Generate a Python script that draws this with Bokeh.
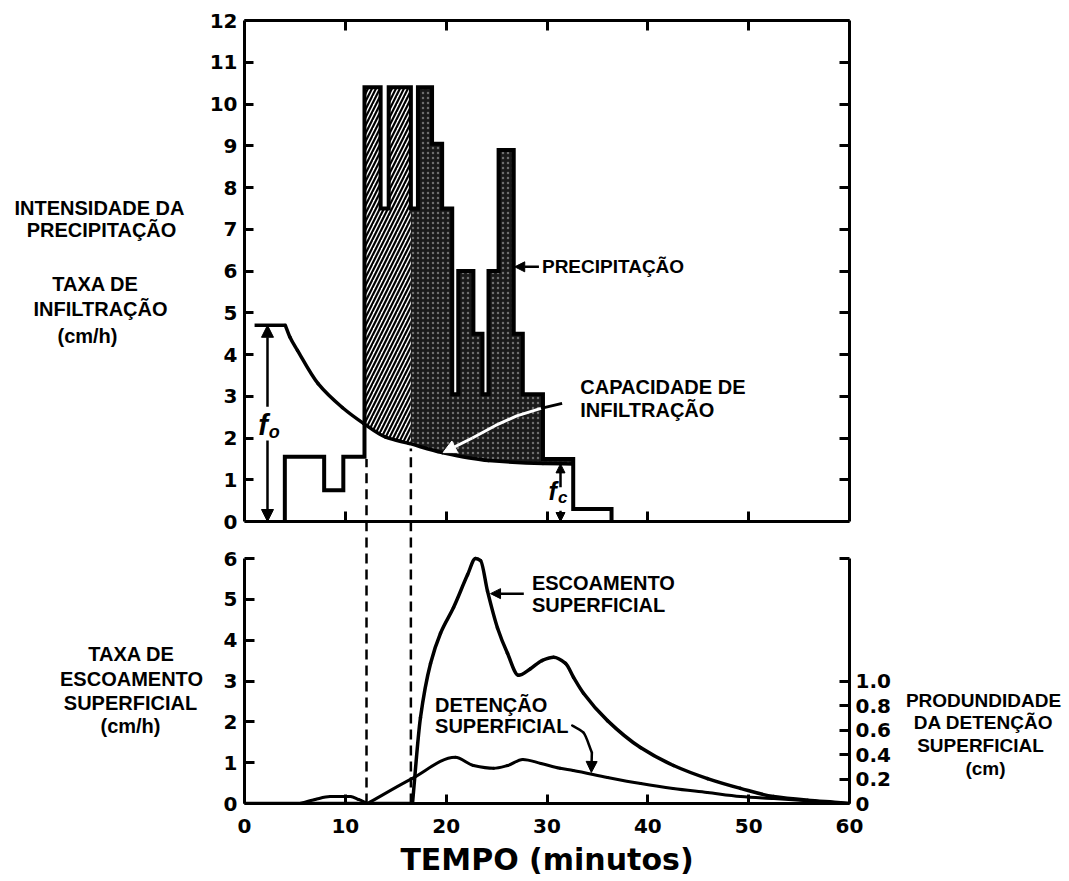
import numpy as np
from bokeh.plotting import figure
from bokeh.layouts import column, row
from bokeh.models import (Range1d, LinearAxis, FixedTicker, CustomJSTickFormatter,
                          Label, Arrow, NormalHead)
from bokeh.core.properties import value
from bokeh.embed import file_html
from bokeh.resources import INLINE

# ---------------- data ----------------
# precipitation hyetograph: interval edges (min) and intensity (cm/h)
rain_edges = [4.0, 7.9, 9.8, 11.9, 13.5, 14.3, 16.5, 17.2, 18.6, 19.6, 20.6,
              21.2, 22.7, 23.6, 24.2, 25.2, 26.7, 27.6, 29.6, 32.6, 36.4]
rain_rate = [1.55, 0.75, 1.55, 10.4, 7.5, 10.4, 7.5, 10.4, 9.05, 7.5,
             3.05, 6.0, 4.5, 3.05, 6.0, 8.9, 4.5, 3.05, 1.5, 0.3]

# infiltration capacity curve (cm/h)
cap_time = [1.0, 4.05, 4.5, 5.25, 7.3, 9.7, 11.8, 14.0, 16.3, 19.6, 24.2, 29.6, 32.6]
cap_rate = [4.7, 4.7, 4.42, 4.1, 3.3, 2.73, 2.35, 2.02, 1.87, 1.65, 1.46, 1.39, 1.38]

# surface runoff rate (cm/h)
runoff_time = [0, 16.66, 17.45, 18.45, 19.44, 20.73, 22.12, 22.91, 23.41, 24.1,
               25.09, 26.08, 27.17, 28.36, 29.5, 30.65, 31.84, 32.63, 33.62, 36.0,
               39.27, 42.55, 45.92, 49.19, 52.46, 55.84, 59.11, 60]
runoff_rate = [0, 0, 2.1, 3.43, 4.17, 4.8, 5.6, 6.0, 5.95, 5.2,
               4.3, 3.68, 3.14, 3.3, 3.5, 3.58, 3.43, 3.09, 2.7, 2.03,
               1.37, 0.93, 0.61, 0.37, 0.17, 0.08, 0.02, 0]

# surface detention depth (cm)
det_time = [0, 5.5, 7.0, 8.5, 10.5, 11.3, 12.2, 16.6, 20.9, 22.7, 24.7, 26.1,
            27.6, 29.4, 31.3, 32.6, 36.0, 39.3, 42.5, 45.9, 49.2, 52.5, 55.8, 60]
det_depth = [0, 0, 0.033, 0.057, 0.057, 0.033, 0, 0.203, 0.377, 0.31, 0.287, 0.31,
             0.36, 0.327, 0.287, 0.27, 0.213, 0.163, 0.123, 0.09, 0.057, 0.04, 0.023, 0]

split_times = [12.1, 16.5]          # dashed lines
x_ticks = [0, 10, 20, 30, 40, 50, 60]
x_inner_ticks = [10, 20, 30, 40, 50]
top_y_ticks = list(range(0, 13))
bot_y_ticks = list(range(0, 7))
depth_ticks = [0, 0.2, 0.4, 0.6, 0.8, 1.0, 2.0]

TXT = "Liberation Sans"
NUM = "DejaVu Sans"
LEFT_W, RIGHT_W = 205, 168          # side text panels
FW, LB, RB = 605, 39, 50
PX_TOP = 41.75     # px per cm/h, top panel
PX_BOT = 40.83     # px per cm/h, bottom panel
TOP_FH = 513       # 0..12 plus a small strip below 0
BOT_FH = 270
H_TOTAL = 878


def style_axis(ax, labels=True, tick_in=9, size="20px", standoff=7):
    ax.axis_line_width = 3
    ax.axis_line_color = "black"
    ax.major_tick_in = tick_in
    ax.major_tick_out = 0
    ax.major_tick_line_width = 3
    ax.major_tick_line_color = "black"
    ax.minor_tick_line_color = None
    if labels:
        ax.major_label_text_font = NUM
        ax.major_label_text_font_style = "bold"
        ax.major_label_text_font_size = size
        ax.major_label_text_color = "black"
        ax.major_label_standoff = standoff
    else:
        ax.formatter = CustomJSTickFormatter(code="return '';")
        ax.major_label_standoff = 0


def add_text(p, x, y, text, size="20px", align="left", font=TXT, style="bold",
             y_range_name="default"):
    p.add_layout(Label(x=x, y=y, text=text, text_font=font, text_font_style=style,
                       text_font_size=size, text_align=align, text_baseline="middle",
                       text_color="black", y_range_name=y_range_name))


def add_arrow(p, x0, y0, x1, y1, color="black", size=11, width=2.5):
    p.add_layout(Arrow(x_start=x0, y_start=y0, x_end=x1, y_end=y1,
                       line_color=color, line_width=width,
                       end=NormalHead(size=size, fill_color=color, line_color=color)))


def hermite_slopes(xs, ys):
    xs, ys = np.asarray(xs, float), np.asarray(ys, float)
    h = np.diff(xs)
    d = np.diff(ys) / h
    m = np.zeros(len(xs))
    m[0], m[-1] = d[0], d[-1]
    for i in range(1, len(xs) - 1):
        if d[i - 1] * d[i] <= 0:
            m[i] = 0.0
        else:
            w1, w2 = 2 * h[i] + h[i - 1], h[i] + 2 * h[i - 1]
            m[i] = (w1 + w2) / (w1 / d[i - 1] + w2 / d[i])
    return xs, ys, h, m


def smooth_curve(p, xs, ys, **kw):
    xs, ys, h, m = hermite_slopes(xs, ys)
    p.bezier(x0=xs[:-1], y0=ys[:-1], x1=xs[1:], y1=ys[1:],
             cx0=xs[:-1] + h / 3, cy0=ys[:-1] + m[:-1] * h / 3,
             cx1=xs[1:] - h / 3, cy1=ys[1:] - m[1:] * h / 3,
             line_cap="round", **kw)


def hermite_eval(xs, ys, t):
    xs, ys, h, m = hermite_slopes(xs, ys)
    t = np.atleast_1d(np.asarray(t, float))
    i = np.clip(np.searchsorted(xs, t, side="right") - 1, 0, len(xs) - 2)
    s = (t - xs[i]) / h[i]
    h00 = 2 * s**3 - 3 * s**2 + 1
    h10 = s**3 - 2 * s**2 + s
    h01 = -2 * s**3 + 3 * s**2
    h11 = s**3 - s**2
    return h00 * ys[i] + h10 * h[i] * m[i] + h01 * ys[i + 1] + h11 * h[i] * m[i + 1]


CAP_SM_T, CAP_SM_F = cap_time[1:], cap_rate[1:]


def rain_at(t):
    i = int(np.searchsorted(rain_edges, t, side="right")) - 1
    return rain_rate[i]


def excess_region(t0, t1):
    xs, ys = [t0], [rain_at(t0 + 1e-9)]
    for e in rain_edges:
        if t0 < e < t1:
            xs += [e, e]
            ys += [rain_at(e - 1e-9), rain_at(e + 1e-9)]
    xs.append(t1)
    ys.append(rain_at(t1 - 1e-9))
    bt = np.linspace(t1, t0, 120)
    bf = hermite_eval(CAP_SM_T, CAP_SM_F, bt)
    return xs + list(bt), ys + list(bf)


def blank_fig(w, h, **kw):
    f = figure(frame_width=w, frame_height=h, x_axis_location=None, y_axis_location=None,
               output_backend="svg", toolbar_location=None, **kw)
    f.grid.visible = False
    f.border_fill_color = "white"
    f.background_fill_color = "white"
    return f


# ---------------- top panel ----------------
xr = Range1d(0, 60)
top = blank_fig(FW, TOP_FH, x_range=xr, y_range=Range1d(-(TOP_FH - 501) / PX_TOP, 12),
                min_border_left=LB, min_border_right=RB, min_border_top=20,
                min_border_bottom=0)
top.outline_line_color = None

ax = LinearAxis(ticker=FixedTicker(ticks=top_y_ticks), bounds=(0, 12))
style_axis(ax, tick_in=9)
top.add_layout(ax, "left")
ax = LinearAxis(ticker=FixedTicker(ticks=top_y_ticks), bounds=(0, 12))
style_axis(ax, labels=False, tick_in=10)
top.add_layout(ax, "right")
ax = LinearAxis(ticker=FixedTicker(ticks=x_inner_ticks))
style_axis(ax, labels=False, tick_in=10)
top.add_layout(ax, "above")
ax = LinearAxis(ticker=FixedTicker(ticks=x_inner_ticks), fixed_location=0)
style_axis(ax, labels=False, tick_in=10)
top.add_layout(ax, "below")

# hatched region (before runoff begins)
hx, hy = excess_region(rain_edges[3], split_times[1])
top.patch(hx, hy, fill_color="white", line_color=None,
          hatch_pattern="/", hatch_color="black", hatch_weight=2.2, hatch_scale=8)
# dark stippled region (rainfall excess)
dx, dy = excess_region(split_times[1], rain_edges[19])
top.patch(dx, dy, fill_color="#1a1a1a", line_color=None,
          hatch_pattern=".", hatch_color="#6e6e6e", hatch_weight=1, hatch_scale=5)

# infiltration capacity
top.line(cap_time[:2], cap_rate[:2], line_color="black", line_width=3.5)
smooth_curve(top, CAP_SM_T, CAP_SM_F, line_color="black", line_width=3.5)

# hyetograph outline
sx, sy = [rain_edges[0]], [0]
for i, r in enumerate(rain_rate):
    sx += [rain_edges[i], rain_edges[i + 1]]
    sy += [r, r]
sx.append(rain_edges[-1])
sy.append(0)
top.line(sx, sy, line_color="black", line_width=4, line_join="miter")

# dashed lines
top.segment(x0=split_times, y0=[-1, -1], x1=split_times, y1=[1.5, 1.75],
            line_color="black", line_width=2.5, line_dash="10 6")

# white arrow to capacity curve
top.line([31.5, 29.4], [2.83, 2.71], line_color="black", line_width=3)
top.line([29.4, 27.0, 24.9, 22.6], [2.71, 2.53, 2.30, 2.0], line_color="white", line_width=3)
add_arrow(top, 22.6, 2.0, 19.7, 1.65, color="white", size=13, width=3)

# f0 and fc arrows
add_arrow(top, 2.28, 2.75, 2.28, 4.7, size=12)
add_arrow(top, 2.28, 1.94, 2.28, 0.0, size=12)
add_arrow(top, 31.34, 0.82, 31.34, 1.38, size=9)
add_arrow(top, 31.34, 0.26, 31.34, 0.0, size=9)
add_text(top, 1.85, 2.3, "f", size="29px", align="center", style="bold italic")
add_text(top, 2.95, 2.14, "o", size="18px", align="center", style="bold italic")
add_text(top, 30.55, 0.72, "f", size="25px", align="center", style="bold italic")
add_text(top, 31.55, 0.57, "c", size="17px", align="center", style="bold italic")

# annotations
add_arrow(top, 29.2, 6.1, 26.8, 6.1, size=10)
add_text(top, 29.5, 6.1, "PRECIPITAÇÃO", size="19px")
add_text(top, 33.3, 3.21, "CAPACIDADE DE", size="20px")
add_text(top, 33.3, 2.66, "INFILTRAÇÃO", size="20px")

# ---------------- bottom panel ----------------
ymax = BOT_FH / PX_BOT
bot = blank_fig(FW, BOT_FH, x_range=xr, y_range=Range1d(0, ymax),
                min_border_left=LB, min_border_right=RB, min_border_top=0,
                min_border_bottom=75)
bot.extra_y_ranges = {"cm": Range1d(0, ymax / 3)}
bot.outline_line_color = None

ax = LinearAxis(ticker=FixedTicker(ticks=bot_y_ticks), bounds=(0, 6))
style_axis(ax, tick_in=10)
bot.add_layout(ax, "left")
ax = LinearAxis(y_range_name="cm", ticker=FixedTicker(ticks=depth_ticks), bounds=(0, 2),
                formatter=CustomJSTickFormatter(
                    code="return tick == 0 ? '0' : (tick > 1.5 ? '' : tick.toFixed(1));"))
style_axis(ax, tick_in=10, standoff=6)
bot.add_layout(ax, "right")
ax = LinearAxis(ticker=FixedTicker(ticks=x_ticks), axis_label="TEMPO (minutos)")
style_axis(ax, tick_in=9, standoff=15)
ax.axis_label_text_font = NUM
ax.axis_label_text_font_style = "bold"
ax.axis_label_text_font_size = "30px"
ax.axis_label_text_color = "black"
ax.axis_label_standoff = 6
bot.add_layout(ax, "below")

bot.segment(x0=split_times, y0=[0, 0], x1=split_times, y1=[ymax, ymax],
            line_color="black", line_width=2.5, line_dash="10 6")

# runoff: zero until it starts, then a smooth curve through the read points
k = runoff_time.index(16.66)
bot.line(runoff_time[:k + 1], runoff_rate[:k + 1], line_color="black", line_width=3.5)
smooth_curve(bot, runoff_time[k:], runoff_rate[k:], line_color="black", line_width=3.5)

# detention
j1, j2 = det_time.index(5.5), det_time.index(12.2)
bot.line(det_time[:j1 + 1], det_depth[:j1 + 1], line_color="black", line_width=3, y_range_name="cm")
smooth_curve(bot, det_time[j1:j2 + 1], det_depth[j1:j2 + 1], line_color="black",
             line_width=3, y_range_name="cm")
smooth_curve(bot, det_time[j2:], det_depth[j2:], line_color="black", line_width=3,
             y_range_name="cm")

add_arrow(bot, 27.7, 5.14, 24.4, 5.14, size=10)
add_text(bot, 28.5, 5.41, "ESCOAMENTO", size="20px")
add_text(bot, 28.5, 4.87, "SUPERFICIAL", size="20px")
add_text(bot, 18.9, 2.42, "DETENÇÃO", size="20px")
add_text(bot, 18.9, 1.89, "SUPERFICIAL", size="20px")
smooth_curve(bot, [32.5, 33.6, 34.45], [1.91, 1.74, 1.25], line_color="black", line_width=2.5)
add_arrow(bot, 34.45, 1.25, 34.4, 0.76, size=11)

# ---------------- side text panels (page-pixel coordinates) ----------------
left = blank_fig(LEFT_W, H_TOTAL, x_range=Range1d(0, LEFT_W), y_range=Range1d(H_TOTAL, 0),
                 min_border=0)
left.outline_line_color = None
left_text = ["INTENSIDADE DA", "PRECIPITAÇÃO", "TAXA DE", "INFILTRAÇÃO", "(cm/h)",
             "TAXA DE", "ESCOAMENTO", "SUPERFICIAL", "(cm/h)"]
left_x = [99, 101, 95, 100, 87, 131, 131, 130, 130]
left_y = [207, 229, 283, 308, 335, 653, 678, 702, 725]
left.text(x=left_x, y=left_y, text=left_text, text_font=value(TXT), text_font_style="bold",
          text_font_size="20px", text_align="center", text_baseline="middle", text_color="black")

right = blank_fig(RIGHT_W, H_TOTAL, x_range=Range1d(0, RIGHT_W), y_range=Range1d(H_TOTAL, 0),
                  min_border=0)
right.outline_line_color = None
right_text = ["PRODUNDIDADE", "DA DETENÇÃO", "SUPERFICIAL", "(cm)"]
right.text(x=[84, 84, 81, 86], y=[700, 722, 745, 768], text=right_text, text_font=value(TXT),
           text_font_style="bold", text_font_size="19px", text_align="center",
           text_baseline="middle", text_color="black")

layout = row(left, column(top, bot, spacing=0), right, spacing=0)
open("out.html", "w").write(file_html(layout, INLINE))
